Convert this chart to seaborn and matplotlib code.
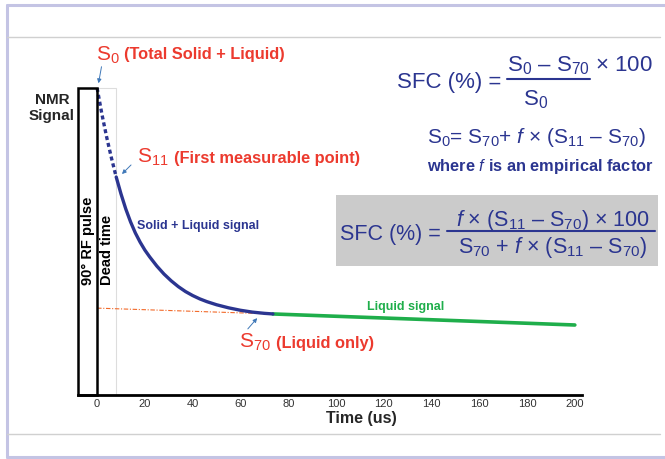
import numpy as np
import pandas as pd
import matplotlib
matplotlib.use("Agg")
import matplotlib.pyplot as plt
import seaborn as sns
from matplotlib.patches import Rectangle
from matplotlib.lines import Line2D

# FID curve (signal in % of S0, time in us)
time_dead = [0, 2, 4, 6, 8]
signal_dead = [100, 91.5, 84.0, 77.2, 71.0]

time_fid = [8, 10, 12, 14, 16, 18, 20, 22, 25, 28, 31, 34, 37, 40, 43, 46, 50, 55, 60, 65, 70, 73.6]
signal_fid = [71.0, 65.5, 60.6, 56.4, 52.8, 49.8, 47.2, 45.0, 42.0, 39.4, 37.2, 35.3, 33.7, 32.4,
              31.3, 30.4, 29.4, 28.4, 27.6, 27.0, 26.6, 26.4]

time_liquid = [73.6, 200]
signal_liquid = [26.4, 22.8]

time_extrap = [0, 73.6]
signal_extrap = [28.3, 26.4]

x_ticks = [0, 20, 40, 60, 80, 100, 120, 140, 160, 180, 200]

navy = "#2b3590"
red = "#ec3a2e"
green = "#1fae4b"

sns.set_theme(style="white")
plt.rcParams['font.family'] = ['Liberation Sans', 'DejaVu Sans']
plt.rcParams['mathtext.fontset'] = 'custom'
plt.rcParams['mathtext.rm'] = 'Liberation Sans'
plt.rcParams['mathtext.it'] = 'Liberation Sans:italic'
plt.rcParams['mathtext.bf'] = 'Liberation Sans:bold'

W, H = 665, 459
fig = plt.figure(figsize=(W / 100, H / 100), dpi=100)


def fx(x):
    return x / W


def fy(y):
    return 1 - y / H


ax = fig.add_axes([fx(78), fy(395), 504 / W, 307 / H])
ax.patch.set_visible(False)

# curves
sns.lineplot(x=time_extrap, y=signal_extrap, ax=ax, color="#f26a2a", lw=0.8,
             linestyle=(0, (4, 1.5, 1, 1.5)))
sns.lineplot(x=time_liquid, y=signal_liquid, ax=ax, color=green, lw=2.6)
sns.lineplot(x=time_dead, y=signal_dead, ax=ax, color=navy, lw=2.4, linestyle=(0, (1.2, 0.9)))
sns.lineplot(x=time_fid, y=signal_fid, ax=ax, color=navy, lw=2.4)

ax.set_xlim(-8, 203)
ax.set_ylim(0, 100)
ax.set_xticks(x_ticks)
ax.set_xticklabels([str(t) for t in x_ticks], fontsize=8, color="#333333")
ax.set_yticks([])
ax.tick_params(axis='x', length=0, pad=3)
for s in ['top', 'right', 'left']:
    ax.spines[s].set_visible(False)
ax.spines['bottom'].set_color('black')
ax.spines['bottom'].set_linewidth(2)
ax.set_xlabel("Time (us)", fontsize=11.5, fontweight='bold')
ax.xaxis.set_label_coords(0.563, -0.052)
ax.set_ylabel("")

# pulse box and dead time
ax.add_patch(Rectangle((-8, 0), 8, 100, fill=False, edgecolor='black', lw=1.8, clip_on=False, zorder=5))
ax.add_patch(Rectangle((0, 0), 8, 100, fill=False, edgecolor='#dddddd', lw=0.8, clip_on=False, zorder=1))
ax.text(-4, 35.8, "90° RF pulse", rotation=90, ha='center', va='bottom', fontsize=10.5,
        fontweight='bold', color='black')
ax.text(4.2, 35.8, "Dead time", rotation=90, ha='center', va='bottom', fontsize=10.5,
        fontweight='bold', color='black')

fig.text(fx(52), fy(108), "NMR\nSignal", ha='center', va='center', fontsize=11,
         fontweight='bold', linespacing=1.15)

# red labels
fig.text(fx(96), fy(61), r"S$_0$", fontsize=15, color=red, va='baseline')
fig.text(fx(124), fy(59), "(Total Solid + Liquid)", fontsize=11.8, color=red, fontweight='bold', va='baseline')
fig.text(fx(137), fy(163), r"S$_{11}$", fontsize=15, color=red, va='baseline')
fig.text(fx(174), fy(163), "(First measurable point)", fontsize=11.8, color=red, fontweight='bold', va='baseline')
fig.text(fx(239), fy(348), r"S$_{70}$", fontsize=15, color=red, va='baseline')
fig.text(fx(276), fy(348), "(Liquid only)", fontsize=11.8, color=red, fontweight='bold', va='baseline')

fig.text(fx(137), fy(226), "Solid + Liquid signal", fontsize=9, color=navy, fontweight='bold', va='center')
fig.text(fx(367), fy(307), "Liquid signal", fontsize=9, color=green, fontweight='bold', va='center')

arrow = dict(arrowstyle='-|>', color='#3f78b8', lw=0.7, mutation_scale=6)
for (x0, y0), (x1, y1) in [((102, 64), (98, 86)), ((133, 163), (120, 176)), ((246, 331), (259, 316))]:
    ax.annotate("", xy=(x1, H - y1), xycoords='figure pixels', xytext=(x0, H - y0),
                textcoords='figure pixels', arrowprops=arrow)

# formulas
fig.text(fx(397), fy(88), "SFC (%) =", fontsize=16, color=navy, va='baseline')
fig.text(fx(507), fy(71), r"S$_0$ – S$_{70}$ × 100", fontsize=16, color=navy, va='baseline')
fig.add_artist(Line2D([fx(507), fx(590)], [fy(79), fy(79)], color=navy, lw=1.5))
fig.text(fx(536), fy(105), r"S$_0$", fontsize=16, color=navy, va='baseline', ha='center')

fig.text(fx(427), fy(143), r"S$_0$= S$_{70}$+ $\it{f}$ × (S$_{11}$ – S$_{70}$)", fontsize=15,
         color=navy, va='baseline')
fig.text(fx(427), fy(166), r"where $\mathbf{\it{f}}$ is an empirical factor", fontsize=11.8,
         color=navy, fontweight='bold', va='center')

fig.add_artist(Rectangle((fx(336), fy(266)), 322 / W, 71 / H, transform=fig.transFigure,
                         facecolor='#cbcbcb', edgecolor='none', zorder=1))
fig.text(fx(340), fy(240), "SFC (%) =", fontsize=15.5, color=navy, va='baseline')
fig.text(fx(553), fy(226), r"$\it{f}$ × (S$_{11}$ – S$_{70}$) × 100", fontsize=15.5, color=navy,
         va='baseline', ha='center')
fig.add_artist(Line2D([fx(447), fx(655)], [fy(231), fy(231)], color=navy, lw=1.5, zorder=2))
fig.text(fx(553), fy(253), r"S$_{70}$ + $\it{f}$ × (S$_{11}$ – S$_{70}$)", fontsize=15.5, color=navy,
         va='baseline', ha='center')

# page frame
frame = '#c4c4e4'
fig.add_artist(Line2D([fx(7), 1], [fy(5), fy(5)], color=frame, lw=2.2))
fig.add_artist(Line2D([fx(7), fx(7)], [fy(5), fy(457)], color=frame, lw=2.2))
fig.add_artist(Line2D([fx(7), 1], [fy(457), fy(457)], color=frame, lw=2.2))
fig.add_artist(Line2D([fx(7), fx(660)], [fy(37), fy(37)], color='#d0d0d0', lw=1))
fig.add_artist(Line2D([fx(7), fx(660)], [fy(434), fy(434)], color='#d0d0d0', lw=1))

fig.savefig("out.png", dpi=100)
